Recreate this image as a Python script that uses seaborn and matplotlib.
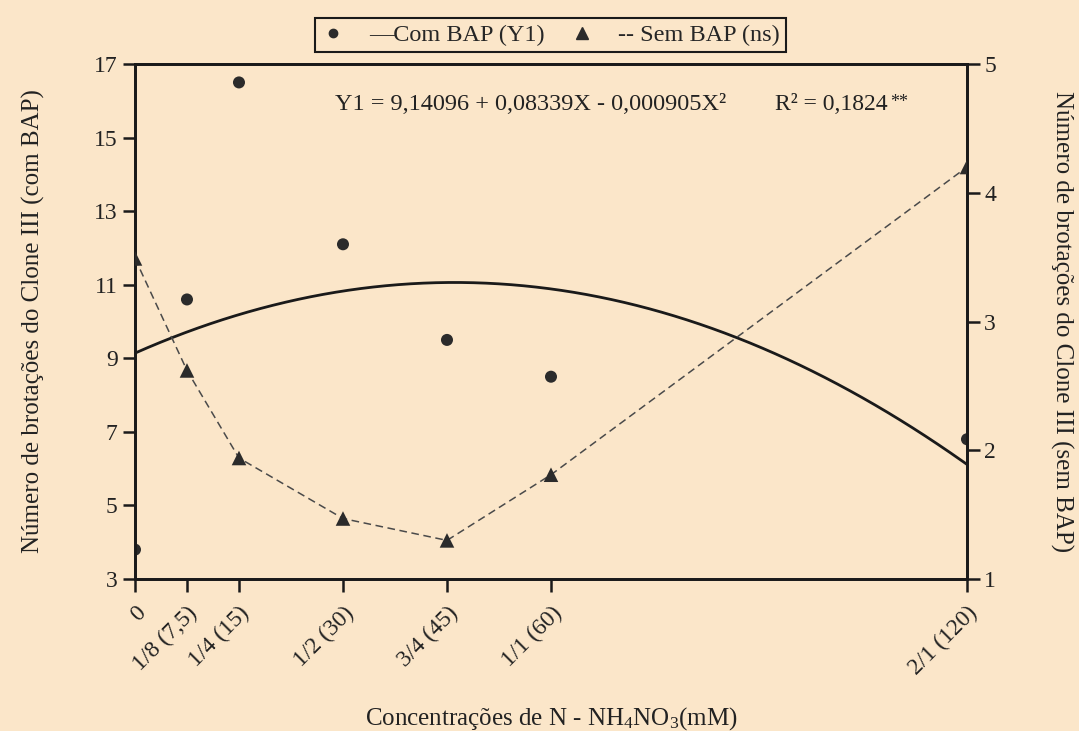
import numpy as np
import pandas as pd
import matplotlib
matplotlib.use("Agg")
import matplotlib.pyplot as plt
import seaborn as sns
from matplotlib.lines import Line2D

# dados
conc = [0, 7.5, 15, 30, 45, 60, 120]
tick_labels = ["0", "1/8 (7,5)", "1/4 (15)", "1/2 (30)", "3/4 (45)", "1/1 (60)", "2/1 (120)"]
com_bap = [3.8, 10.6, 16.5, 12.1, 9.5, 8.5, 6.8]
sem_bap = [3.49, 2.62, 1.94, 1.47, 1.30, 1.81, 4.20]

# equacao ajustada (Y1)
b0, b1, b2 = 9.14096, 0.08339, -0.000905

bg = "#FBE6C9"
sns.set_style("ticks")
plt.rcParams["font.family"] = ["Liberation Serif", "DejaVu Serif"]
plt.rcParams["mathtext.fontset"] = "custom"
plt.rcParams["mathtext.rm"] = "Liberation Serif"
plt.rcParams["mathtext.it"] = "Liberation Serif"

df = pd.DataFrame({"conc": conc, "com": com_bap, "sem": sem_bap})
xs = np.linspace(0, 120, 200)
fit = pd.DataFrame({"x": xs, "y": b0 + b1 * xs + b2 * xs ** 2})

fig = plt.figure(figsize=(10.79, 7.31), dpi=100, facecolor=bg)
ax = fig.add_axes([0.1251, 0.2079, 0.7711, 0.7045])
ax.set_facecolor(bg)
ax2 = ax.twinx()

sns.lineplot(data=fit, x="x", y="y", ax=ax, color="#1a1a1a", lw=2.0)
sns.scatterplot(data=df, x="conc", y="com", ax=ax, color="#2b2b2b",
                s=75, marker="o", edgecolor="none", zorder=5)

sns.lineplot(data=df, x="conc", y="sem", ax=ax2, color="#4a4a4a", lw=1.1,
             linestyle=(0, (5, 3)))
sns.scatterplot(data=df, x="conc", y="sem", ax=ax2, color="#2b2b2b",
                s=110, marker="^", edgecolor="none", zorder=5)

ax.set_xlim(0, 120)
ax.set_ylim(3, 17)
ax2.set_ylim(1, 5)
ax.set_yticks(range(3, 18, 2))
ax2.set_yticks(range(1, 6))
ax.set_xticks(conc)
ax.set_xticklabels(tick_labels, rotation=45, ha="right", rotation_mode="anchor")

for a in (ax, ax2):
    for s in a.spines.values():
        s.set_visible(True)
        s.set_linewidth(2.0)
        s.set_color("#1a1a1a")
    a.tick_params(direction="out", length=9, width=1.8, colors="#1a1a1a",
                  labelsize=17, labelcolor="#222222")
ax.tick_params(axis="x", pad=8)

ax.set_xlabel("Concentrações de N - NH$_4$NO$_3$(mM)", fontsize=18, color="#222222")
ax.set_ylabel("Número de brotações do Clone III (com BAP)", fontsize=18, color="#222222")
ax2.set_ylabel("Número de brotações do Clone III (sem BAP)", fontsize=18,
               rotation=-90, color="#222222")
ax.xaxis.set_label_coords(0.5, -0.245)
ax.yaxis.set_label_coords(-0.108, 0.5)
ax2.yaxis.set_label_coords(1.128, 0.5)

ax.text(0.241, 0.922, "Y1 = 9,14096 + 0,08339X - 0,000905X²", transform=ax.transAxes,
        fontsize=17.5, color="#222222", va="center")
ax.text(0.769, 0.922, "R² = 0,1824", transform=ax.transAxes,
        fontsize=17, color="#222222", va="center")
ax.text(0.908, 0.926, "**", transform=ax.transAxes,
        fontsize=13, color="#222222", va="center")

handles = [
    Line2D([], [], marker="o", color="#2b2b2b", ls="none", markersize=6),
    Line2D([], [], marker="^", color="#2b2b2b", ls="none", markersize=8),
]
labels = ["—Com BAP (Y1)", "-- Sem BAP (ns)"]
leg = fig.legend(handles, labels, loc="center", bbox_to_anchor=(0.510, 0.952),
                 ncol=2, fontsize=17.5, frameon=True, fancybox=False,
                 handlelength=1.0, handletextpad=1.0, columnspacing=1.0,
                 borderpad=0.25, edgecolor="#1a1a1a", facecolor=bg, framealpha=1)
leg.get_frame().set_linewidth(1.5)

fig.savefig("out.png", dpi=100, facecolor=bg)
